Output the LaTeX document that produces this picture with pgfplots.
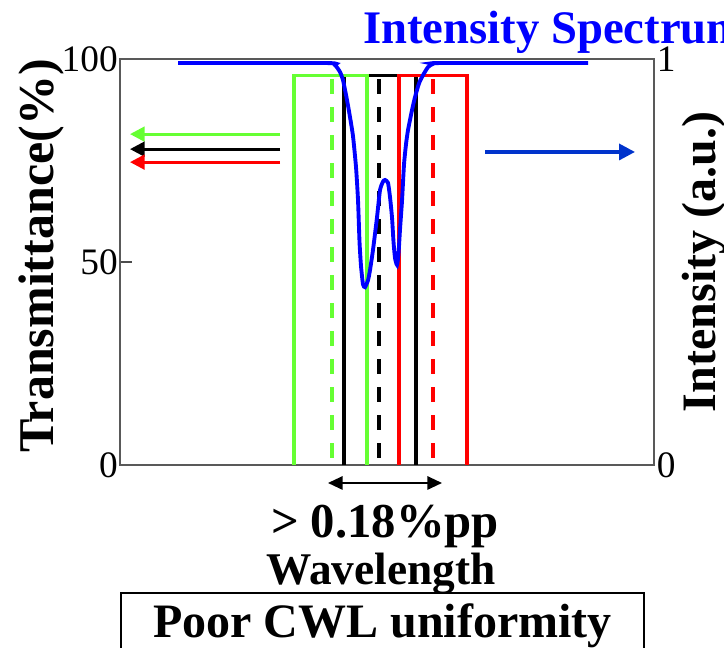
\documentclass[border=0pt]{standalone}
\usepackage{fontspec}
\setmainfont{Liberation Serif}
\usepackage{pgfplots}
\pgfplotsset{compat=1.18}
\usetikzlibrary{arrows.meta}
\definecolor{lgreen}{RGB}{102,255,51}
\definecolor{arrblue}{RGB}{0,51,204}

\begin{document}
\begin{tikzpicture}
\pgfplotsset{
  base/.style={
    scale only axis, width=400.5pt, height=304.5pt,
    xmin=120, xmax=654,
    at={(90pt,-348.75pt)}, anchor=south west,
    axis line style={draw=black!65, line width=0.8pt},
    clip=false, xtick=\empty,
    tick label style={font=\fontsize{28}{30}\selectfont},
    /pgf/number format/assume math mode=true,
  },
  tip/.style={-{Triangle[length=11pt,width=11pt]}},
}
% transmittance (left axis)
\begin{axis}[base,
    ymin=0, ymax=100, ytick={0,50,100}, ytick pos=left,
    major tick length=9pt,
    tick style={draw=black!70, line width=0.8pt},
    yticklabel style={inner sep=1.5pt},
  ]
  \addplot[black, line width=2.6pt] coordinates {(344,0) (344,96) (416,96) (416,0)};
  \addplot[black, line width=2.6pt, dash pattern=on 11pt off 10pt] coordinates {(379,95) (379,0)};
  \addplot[lgreen, line width=2.6pt] coordinates {(294,0) (294,96) (367,96) (367,0)};
  \addplot[lgreen, line width=2.6pt, dash pattern=on 11pt off 10pt] coordinates {(332,95) (332,0)};
  \addplot[red, line width=2.6pt] coordinates {(399,0) (399,96) (467,96) (467,0)};
  \addplot[red, line width=2.6pt, dash pattern=on 11pt off 10pt] coordinates {(433,95) (433,0)};
  % filter arrows
  \addplot[lgreen, line width=2.2pt, tip] coordinates {(280,81.5) (130,81.5)};
  \addplot[black, line width=2.2pt, tip] coordinates {(280,77.8) (130,77.8)};
  \addplot[red, line width=2.2pt, tip] coordinates {(280,74.6) (130,74.6)};
  % CWL spread
  \addplot[black, line width=1.5pt, {Triangle[length=11pt,width=10pt]}-{Triangle[length=11pt,width=10pt]}]
    coordinates {(328,-4.43) (442,-4.43)};
\end{axis}
% intensity (right axis)
\begin{axis}[base,
    ymin=0, ymax=1, ytick={0,1},
    axis y line*=right, axis x line=none,
    major tick length=0pt,
    yticklabel style={inner sep=2pt},
  ]
  \addplot[blue, line width=2.9pt, smooth, tension=0.35] coordinates {
    (178,0.99) (327,0.99) (335,0.985) (340,0.968) (343,0.948) (347,0.899)
    (350,0.857) (353,0.81) (356,0.734) (358,0.653) (359.5,0.55) (361,0.49)
    (363,0.445) (365,0.438) (368,0.455) (370,0.48) (373,0.53) (377,0.61)
    (380,0.677) (383,0.698) (385,0.702) (388,0.695) (390,0.66) (392,0.61)
    (393.5,0.55) (395,0.51) (397,0.493) (398.5,0.52) (400,0.58) (402,0.65)
    (404,0.74) (406,0.79) (408,0.825) (412,0.874) (415,0.906) (419,0.94)
    (423,0.96) (428,0.98) (433,0.988) (440,0.99) (588,0.99)};
  \addplot[arrblue, line width=2.6pt, -{Triangle[length=12pt,width=12pt]}]
    coordinates {(485,0.771) (635,0.771)};
\end{axis}
\begin{scope}[x=0.75pt, y=-0.75pt]
  \node[rotate=90, anchor=base, font=\bfseries\fontsize{37.5}{40}\selectfont]
    at (53,256) {Transmittance(\%)};
  \node[rotate=90, anchor=base, font=\bfseries\fontsize{36}{40}\selectfont]
    at (715,262) {Intensity (a.u.)};
  \node[anchor=base west, inner sep=0pt, text=blue, font=\bfseries\fontsize{35}{40}\selectfont]
    at (363,44) {Intensity Spectrum};
  \node[anchor=base, inner sep=0pt, font=\bfseries\fontsize{36.5}{40}\selectfont]
    at (385,537) {> 0.18\%pp};
  \node[anchor=base, inner sep=0pt, font=\bfseries\fontsize{34}{38}\selectfont]
    at (381,584) {Wavelength};
  \draw[black, line width=1.2pt] (121,700) -- (121,593) -- (644,593) -- (644,700);
  \node[anchor=base, inner sep=0pt, font=\bfseries\fontsize{36}{40}\selectfont]
    at (382.5,637) {Poor CWL uniformity};
  \pgfresetboundingbox
  \path[use as bounding box] (0,0) rectangle (724,648);
\end{scope}
\end{tikzpicture}
\end{document}
